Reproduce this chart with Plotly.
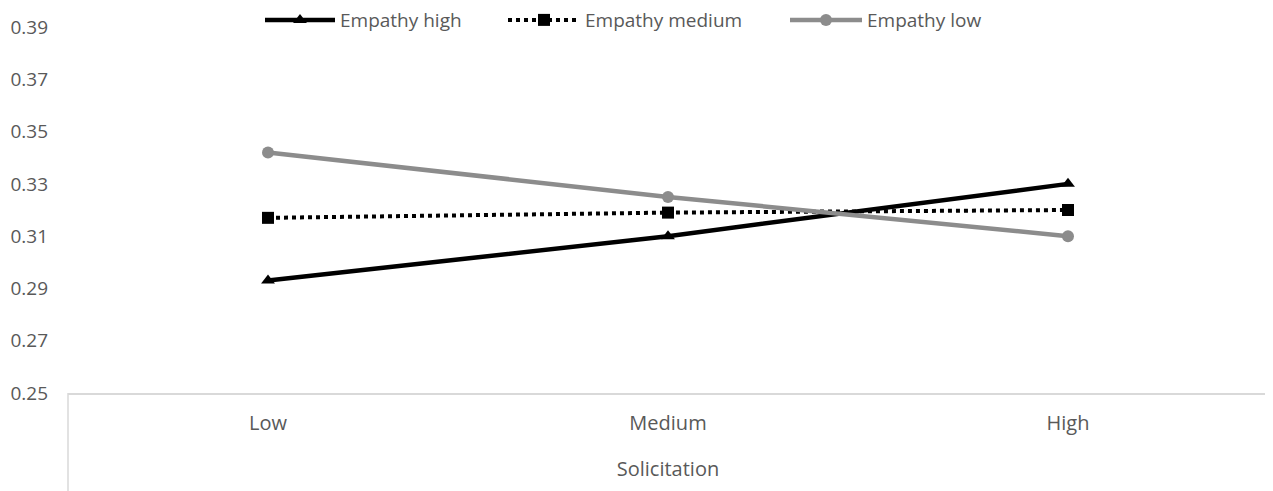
import plotly.graph_objects as go

categories = ["Low", "Medium", "High"]
empathy_high = [0.293, 0.310, 0.330]
empathy_medium = [0.317, 0.319, 0.320]
empathy_low = [0.342, 0.325, 0.310]
y_ticks = [0.25, 0.27, 0.29, 0.31, 0.33, 0.35, 0.37, 0.39]

FONT = "Open Sans"
TXT = "#595959"
SIZE = 20

fig = go.Figure()
fig.add_trace(go.Scatter(
    x=categories, y=empathy_high, name="Empathy high", mode="lines+markers",
    line=dict(color="black", width=4.5), legend="legend",
    marker=dict(symbol="triangle-up", size=12, color="black")))
fig.add_trace(go.Scatter(
    x=categories, y=empathy_medium, name="Empathy medium", mode="lines+markers",
    line=dict(color="black", width=4, dash="dot"), legend="legend2",
    marker=dict(symbol="square", size=12, color="black")))
fig.add_trace(go.Scatter(
    x=categories, y=empathy_low, name="Empathy low", mode="lines+markers",
    line=dict(color="#8c8c8c", width=4.5), legend="legend3",
    marker=dict(symbol="circle", size=12, color="#8c8c8c")))

# Excel style box under the category axis
for xp in (0, 1):
    fig.add_shape(type="line", xref="paper", yref="paper",
                  x0=xp, x1=xp, y0=0, y1=-0.27,
                  line=dict(color="#d9d9d9", width=1.5))


def leg(x, w):
    return dict(orientation="h", x=x, xanchor="left", y=1.019, yanchor="middle",
                font=dict(family=FONT, size=19, color=TXT), itemwidth=w,
                bgcolor="rgba(0,0,0,0)")


fig.update_layout(
    width=1265, height=483,
    margin=dict(l=60, r=5, t=19, b=98, autoexpand=False),
    plot_bgcolor="white", paper_bgcolor="white",
    font=dict(family=FONT, size=SIZE, color=TXT),
    showlegend=True,
    legend=leg(0.16, 70),
    legend2=leg(0.3625, 72),
    legend3=leg(0.5975, 72),
    xaxis=dict(type="category", range=[-0.5, 2.5], showgrid=False, zeroline=False,
               showline=True, linecolor="#d9d9d9", linewidth=1.5, ticks="",
               ticklabelstandoff=11,
               tickfont=dict(family=FONT, size=SIZE, color=TXT),
               title=dict(text="Solicitation", standoff=27,
                          font=dict(family=FONT, size=SIZE, color=TXT))),
    yaxis=dict(range=[0.25, 0.39], tickvals=y_ticks,
               ticktext=[f"{v:.2f}" for v in y_ticks],
               showgrid=False, zeroline=False, showline=False,
               ticklabelstandoff=19,
               tickfont=dict(family=FONT, size=19, color=TXT)),
)

fig.write_html("out.html")
